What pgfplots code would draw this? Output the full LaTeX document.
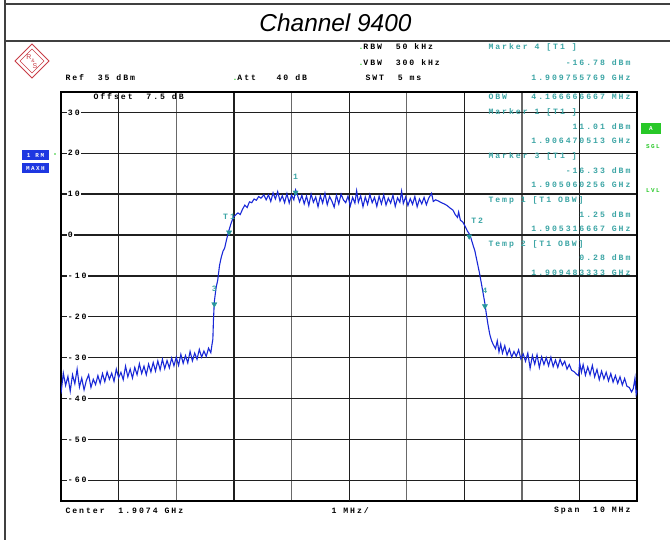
\documentclass[border=0pt]{standalone}
\usepackage{fontspec}
\setmainfont{Liberation Sans}
\newfontfamily\rsfont[LetterSpace=24]{Liberation Mono Bold}
\usepackage{pgfplots}
\pgfplotsset{compat=1.18}
\definecolor{trace}{RGB}{25,40,215}
\definecolor{mk}{RGB}{40,150,155}
\definecolor{tl}{RGB}{60,165,165}
\definecolor{gr}{RGB}{40,200,40}
\definecolor{bbox}{RGB}{30,55,225}
\definecolor{gridgray}{RGB}{105,105,105}
\definecolor{logo}{RGB}{200,60,70}
\newcommand\rs{\fontsize{8.2}{9}\selectfont\rsfont}

\pgfplotstableread{
x y
0.00 -38.8
0.04 -33.8
0.08 -36.8
0.12 -34.6
0.16 -38.2
0.20 -34.2
0.24 -36.4
0.28 -32.8
0.32 -37.2
0.36 -35.0
0.40 -37.9
0.44 -35.6
0.48 -34.2
0.52 -37.3
0.56 -35.3
0.60 -36.6
0.64 -34.4
0.68 -36.3
0.72 -33.9
0.76 -35.9
0.80 -33.5
0.84 -35.3
0.88 -33.8
0.92 -35.8
0.96 -32.8
1.00 -34.9
1.04 -33.6
1.08 -35.4
1.12 -32.1
1.16 -34.7
1.20 -32.8
1.24 -35.0
1.28 -32.4
1.32 -34.2
1.36 -31.5
1.40 -33.9
1.44 -32.1
1.48 -34.2
1.52 -31.6
1.56 -33.5
1.60 -31.2
1.64 -33.3
1.68 -30.8
1.72 -33.0
1.76 -30.4
1.80 -32.7
1.84 -30.7
1.88 -32.5
1.92 -30.1
1.96 -32.0
2.00 -29.9
2.04 -31.9
2.08 -29.2
2.12 -31.4
2.16 -29.5
2.20 -31.3
2.24 -28.5
2.28 -30.8
2.32 -28.9
2.36 -30.4
2.40 -28.0
2.44 -29.9
2.48 -28.4
2.52 -29.7
2.56 -27.7
2.60 -28.8
2.62 -26.8
2.635 -25.5
2.645 -21.0
2.660256 -16.33
2.69 -13.0
2.72 -11.0
2.75 -7.5
2.78 -5.5
2.81 -4.0
2.84 -3.2
2.87 -1.3
2.90 0.4
2.916667 1.25
2.95 2.8
2.99 4.3
3.03 4.9
3.07 5.4
3.11 5.0
3.15 6.3
3.19 7.3
3.23 6.7
3.27 8.1
3.31 7.9
3.35 8.8
3.39 8.5
3.43 9.4
3.47 9.0
3.52 9.8
3.56 8.6
3.60 9.8
3.64 8.2
3.68 10.3
3.72 8.8
3.76 10.6
3.80 8.3
3.84 9.6
3.88 7.9
3.92 10.1
3.96 7.8
4.00 9.8
4.04 8.6
4.070513 11.01
4.10 9.9
4.14 8.1
4.18 9.7
4.22 7.6
4.26 9.5
4.30 7.2
4.34 10.0
4.38 8.0
4.42 9.3
4.46 6.9
4.50 9.6
4.54 7.8
4.58 10.2
4.62 7.4
4.66 9.4
4.70 8.3
4.74 6.8
4.78 9.7
4.82 7.6
4.86 10.0
4.90 8.6
4.94 7.9
4.98 9.5
5.02 7.1
5.06 9.2
5.10 7.8
5.13 10.8
5.16 8.0
5.20 9.6
5.24 6.9
5.28 9.3
5.32 7.5
5.36 9.9
5.40 7.9
5.44 9.2
5.48 7.0
5.52 9.5
5.56 7.6
5.60 9.8
5.64 7.3
5.68 9.0
5.72 7.8
5.76 9.7
5.80 7.0
5.84 9.1
5.88 8.0
5.91 10.7
5.94 7.7
5.98 9.3
6.02 7.2
6.06 8.9
6.10 7.5
6.14 9.4
6.18 6.9
6.22 8.8
6.26 7.6
6.30 9.2
6.34 7.4
6.38 9.0
6.43 10.2
6.46 8.2
6.50 8.6
6.55 8.3
6.60 7.9
6.65 7.6
6.70 7.2
6.75 6.6
6.80 6.1
6.84 5.0
6.88 4.3
6.90 5.6
6.93 3.6
6.97 3.2
7.01 2.2
7.05 1.0
7.083333 0.28
7.11 -0.6
7.15 -2.5
7.18 -3.8
7.22 -6.5
7.26 -9.2
7.30 -12.3
7.355769 -16.78
7.38 -19.3
7.41 -22.0
7.44 -24.3
7.47 -25.8
7.50 -26.8
7.54 -27.8
7.57 -25.9
7.60 -28.6
7.63 -26.7
7.66 -28.9
7.70 -27.1
7.74 -29.4
7.78 -27.9
7.82 -29.9
7.86 -28.5
7.90 -29.7
7.94 -28.1
7.98 -30.3
8.02 -29.1
8.06 -30.9
8.10 -28.9
8.14 -32.6
8.18 -29.5
8.22 -31.6
8.26 -29.3
8.30 -32.4
8.34 -29.8
8.38 -31.7
8.42 -30.0
8.46 -32.0
8.50 -29.9
8.54 -32.2
8.58 -30.6
8.62 -32.4
8.66 -30.4
8.70 -31.9
8.74 -30.9
8.78 -32.8
8.82 -31.7
8.86 -33.1
8.90 -33.4
8.94 -34.0
8.98 -34.4
9.00 -31.3
9.03 -33.6
9.06 -31.7
9.10 -34.3
9.14 -32.3
9.18 -34.2
9.22 -31.9
9.26 -34.7
9.30 -32.9
9.34 -35.4
9.38 -33.3
9.42 -35.2
9.46 -33.6
9.50 -35.7
9.54 -33.9
9.58 -36.0
9.62 -34.4
9.66 -36.3
9.70 -34.7
9.74 -36.7
9.78 -35.1
9.82 -37.0
9.86 -37.3
9.90 -38.4
9.93 -37.6
9.96 -35.0
9.98 -39.0
10.00 -38.0
}\tracedata

\begin{document}
\begin{tikzpicture}
\path[use as bounding box] (0,0) rectangle (670bp,540bp);
\begin{axis}[at={(61bp,39.3bp)}, anchor=south west, scale only axis,
  width=576.3bp, height=408.8bp,
  xmin=0, xmax=10, ymin=-65, ymax=35,
  xtick={1,3,7,9}, minor xtick={2,4,6,8}, xticklabels={},
  extra x ticks={5}, extra x tick labels={},
  extra x tick style={grid style={draw=black, line width=2.2bp}},
  ytick={-60,-50,...,30}, yticklabels={-60,-50,-40,-30,-20,-10,0,10,20,30},
  ytick pos=left,
  grid=both,
  major grid style={draw=black!88, line width=1.3bp},
  minor grid style={draw=gridgray, line width=1.3bp},
  tick style={draw=none},
  axis line style={line width=2bp, black},
  yticklabel style={font=\rs, anchor=west, fill=white, inner sep=1.2bp, xshift=5.5bp},
]
\addplot[trace, line width=1.1bp, mark=none] table[x=x, y=y] {\tracedata};
\addplot[only marks, mark=triangle*, mark size=3bp,
  mark options={rotate=180, fill=mk, draw=mk, yshift=2.5bp}]
  coordinates {(4.070513,11.01) (2.660256,-16.33) (7.355769,-16.78) (2.916667,1.25) (7.083333,0.28)};
\node[font=\rs, text=tl] at (axis cs:4.070513,11.01) [yshift=13bp] {1};
\node[font=\rs, text=tl] at (axis cs:2.660256,-16.33) [yshift=13bp] {3};
\node[font=\rs, text=tl] at (axis cs:7.355769,-16.78) [yshift=13bp] {4};
\node[font=\rs, text=tl] at (axis cs:2.916667,1.25) [yshift=13bp] {T1};
\node[font=\rs, text=tl] at (axis cs:7.083333,0.28) [xshift=8bp, yshift=13bp] {T2};
\end{axis}

\begin{scope}[shift={(0bp,540bp)}, x=1bp, y=-1bp]
% frame
\draw[black!75, line width=1.3bp] (5,0) -- (5,540);
\draw[black!75, line width=1.3bp] (5,4) -- (670,4);
\draw[black!75, line width=1.3bp] (5,41) -- (670,41);
% title
\node[font=\fontsize{24.5}{28}\selectfont\itshape] at (335.5,22.5) {Channel 9400};
% logo
\draw[logo, line width=0.8bp] (32,44) -- (49,61) -- (32,78) -- (15,61) -- cycle;
\draw[logo, line width=0.6bp] (32,49) -- (44,61) -- (32,73) -- (20,61) -- cycle;
\node[logo, font=\fontsize{7}{7}\selectfont] at (29,57) {R};
\node[logo, font=\fontsize{7}{7}\selectfont] at (35,66) {S};
\node[logo, font=\fontsize{5}{5}\selectfont] at (33,61) {\&};
% header
\node[anchor=west, font=\rs] at (62,78) {Ref~~35 dBm};
\node[anchor=west, font=\rs] at (229,78) {\textcolor{gr}{.}Att~~~40 dB};
\node[anchor=west, font=\rs] at (355,47) {\textcolor{gr}{.}RBW~~50 kHz};
\node[anchor=west, font=\rs] at (355,63) {\textcolor{gr}{.}VBW~~300 kHz};
\node[anchor=west, font=\rs] at (362,78) {SWT~~5 ms};
\node[anchor=west, font=\rs, text=tl] at (485,47) {Marker 4 [T1 ]};
\node[anchor=east, font=\rs, text=tl] at (634,63) {-16.78 dBm};
\node[anchor=east, font=\rs, text=tl] at (634,78) {1.909755769 GHz};
\node[anchor=west, font=\rs] at (90,97) {Offset~~7.5 dB};
% right panel
\node[anchor=west, font=\rs, text=tl] at (485,97) {OBW};
\node[anchor=east, font=\rs, text=tl] at (634,97) {4.166666667 MHz};
\node[anchor=west, font=\rs, text=tl] at (485,112) {Marker 1 [T1 ]};
\node[anchor=east, font=\rs, text=tl] at (634,127) {11.01 dBm};
\node[anchor=east, font=\rs, text=tl] at (634,141) {1.906470513 GHz};
\node[anchor=west, font=\rs, text=tl] at (485,156) {Marker 3 [T1 ]};
\node[anchor=east, font=\rs, text=tl] at (634,171) {-16.33 dBm};
\node[anchor=east, font=\rs, text=tl] at (634,185) {1.905060256 GHz};
\node[anchor=west, font=\rs, text=tl] at (485,200) {Temp 1 [T1 OBW]};
\node[anchor=east, font=\rs, text=tl] at (634,215) {1.25 dBm};
\node[anchor=east, font=\rs, text=tl] at (634,229) {1.905316667 GHz};
\node[anchor=west, font=\rs, text=tl] at (485,244) {Temp 2 [T1 OBW]};
\node[anchor=east, font=\rs, text=tl] at (634,258) {0.28 dBm};
\node[anchor=east, font=\rs, text=tl] at (634,273) {1.909483333 GHz};
% side boxes
\fill[gr] (641,123) rectangle (661,134);
\node[font=\fontsize{6}{6}\selectfont\rsfont, text=white] at (651,128.5) {A};
\node[font=\fontsize{6}{6}\selectfont\rsfont, text=gr] at (653,147) {SGL};
\node[font=\fontsize{6}{6}\selectfont\rsfont, text=gr] at (653,191) {LVL};
\fill[bbox] (22,150) rectangle (49,160.5);
\fill[bbox] (22,163.5) rectangle (49,173.5);
\node[font=\fontsize{6}{6}\selectfont\rsfont, text=white] at (35.5,155.3) {1 RM};
\node[font=\fontsize{6}{6}\selectfont\rsfont, text=white] at (35.5,168.5) {MAXH};
\fill[gr] (55,154) circle (0.8);
% bottom
\node[anchor=west, font=\rs] at (62,511) {Center~~1.9074 GHz};
\node[anchor=west, font=\rs] at (328,511) {1 MHz/};
\node[anchor=east, font=\rs] at (634,511) {Span~~10 MHz};
\end{scope}
\end{tikzpicture}
\end{document}
